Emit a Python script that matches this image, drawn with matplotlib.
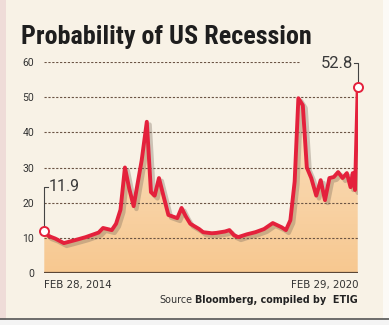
import matplotlib
matplotlib.use("Agg")
import matplotlib.pyplot as plt
import matplotlib.dates as mdates
import matplotlib.transforms as mtransforms
from matplotlib import font_manager as fm
from matplotlib.colors import LinearSegmentedColormap
import numpy as np
import pandas as pd

# ---- data ----
dates = ["2014-02-28", "2014-03-31", "2014-05-15", "2014-07-15", "2014-10-15",
         "2014-12-15", "2015-03-15", "2015-04-15", "2015-06-15", "2015-07-15",
         "2015-08-15", "2015-09-15", "2015-10-15", "2015-11-15", "2016-01-10",
         "2016-02-15", "2016-03-15", "2016-04-10", "2016-05-10", "2016-06-10",
         "2016-07-15", "2016-09-15", "2016-10-15", "2016-11-15", "2016-12-15",
         "2017-02-15", "2017-03-15", "2017-05-15", "2017-06-15", "2017-08-15",
         "2017-09-15", "2017-10-15", "2017-11-15", "2018-01-15", "2018-03-15",
         "2018-05-15", "2018-07-15", "2018-09-15", "2018-10-15", "2018-11-15",
         "2018-12-15", "2019-01-10", "2019-02-10", "2019-03-10", "2019-04-10",
         "2019-05-15", "2019-06-15", "2019-07-15", "2019-08-15", "2019-09-15",
         "2019-10-15", "2019-11-15", "2019-12-15", "2020-01-10", "2020-01-25",
         "2020-02-10", "2020-02-29"]
values = [11.9, 10.5, 9.8, 8.5, 9.5,
          10.2, 11.5, 12.8, 12.2, 14.0,
          18.0, 30.0, 24.0, 19.0, 32.0,
          43.0, 23.0, 22.0, 27.0, 22.0,
          16.5, 15.6, 18.5, 16.0, 14.0,
          12.5, 11.6, 11.3, 11.4, 11.8,
          12.2, 10.8, 10.2, 11.0, 11.6,
          12.5, 14.2, 13.0, 12.2, 15.0,
          26.0, 49.7, 47.7, 30.0, 27.0,
          22.0, 26.4, 20.7, 27.0, 27.3,
          28.7, 27.0, 28.4, 24.4, 28.4,
          23.6, 52.8]
yticks = [0, 10, 20, 30, 40, 50, 60]
title = "Probability of US Recession"
x_start_label = "FEB 28, 2014"
x_end_label = "FEB 29, 2020"
start_value_label = "11.9"
end_value_label = "52.8"

x = pd.to_datetime(dates)
xn = mdates.date2num(x)
y = np.array(values)

BG = "#f8f2e6"
RED = "#e4213c"
GRID = "#6b5444"
TXT = "#333333"

names = {f.name for f in fm.fontManager.ttflist}
COND = None
for cand in ["Liberation Sans Narrow", "DejaVu Sans Condensed", "Roboto Condensed",
             "Open Sans Condensed"]:
    if cand in names:
        COND = cand
        break
cond_faces = [f for f in fm.fontManager.ttflist
              if f.name == "DejaVu Sans" and f.stretch in ("condensed", "semi-condensed")]
if COND is None and cond_faces:
    FAM = ["DejaVu Sans"]
    STRETCH = "condensed"
elif COND is not None:
    FAM = [COND, "DejaVu Sans"]
    STRETCH = "normal"
else:
    FAM = ["Roboto", "DejaVu Sans"]
    STRETCH = "normal"
FP = dict(family=FAM, stretch=STRETCH)
FS = dict(family=["Roboto", "DejaVu Sans"])
FD = dict(family=["DejaVu Sans"])

fig = plt.figure(figsize=(3.89, 3.25), dpi=100)
fig.patch.set_facecolor(BG)

fig.patches.append(plt.Rectangle((0, 0), 6/389, 1, transform=fig.transFigure,
                                 facecolor="#efdcd8", edgecolor="none", zorder=0))
fig.patches.append(plt.Rectangle((383/389, 0), 6/389, 1, transform=fig.transFigure,
                                 facecolor="#fcfaf6", edgecolor="none", zorder=0))
fig.patches.append(plt.Rectangle((0, 0), 1, 5/325, transform=fig.transFigure,
                                 facecolor="#f4f4f4", edgecolor="none", zorder=0))
fig.add_artist(plt.Line2D([0, 1], [6/325, 6/325], transform=fig.transFigure,
                          color="#555555", lw=1.2))

ax = fig.add_axes([44/389, 1 - 273/325, (358 - 44)/389, (273 - 62)/325])
ax.set_facecolor("none")
x0, x1 = xn[0] - 2, xn[-1] + 2
ax.set_xlim(x0, x1)
ax.set_ylim(0, 60)
for s in ax.spines.values():
    s.set_visible(False)

grad = np.linspace(0, 1, 256).reshape(-1, 1)
cmap = LinearSegmentedColormap.from_list("g", ["#f7c890", "#f9d6ac", "#f8ecdb"])
im = ax.imshow(grad, aspect="auto", cmap=cmap, origin="lower",
               extent=[x0, x1, 0, 55], zorder=1)
poly = ax.fill_between(xn, 0, y, facecolor="none", edgecolor="none")
im.set_clip_path(poly.get_paths()[0], transform=ax.transData)

for t in yticks[1:]:
    xe = x1
    if t == 60:
        xe = x0 + (x1 - x0) * (300 - 44) / (358 - 44)
    ax.plot([x0, xe], [t, t], color=GRID, lw=0.8, ls=(0, (2, 1.5)), zorder=2)
ax.plot([x0, x1], [0, 0], color="#5a4636", lw=1.6, zorder=3, solid_capstyle="butt")

ax.plot(xn, y, color="#7a6a5a", lw=3.2, alpha=0.35, zorder=4,
        solid_joinstyle="round",
        transform=ax.transData + mtransforms.ScaledTranslation(
            2/72, -2/72, fig.dpi_scale_trans))
ax.plot(xn, y, color=RED, lw=2.8, zorder=5, solid_joinstyle="round")
ax.plot([xn[0], xn[-1]], [y[0], y[-1]], ls="none", marker="o", ms=6.5,
        mfc="white", mec=RED, mew=1.4, zorder=6, clip_on=False)

ax.plot([xn[0], xn[0], xn[0] + 25], [y[0], 24.5, 24.5], color="#444444", lw=0.8,
        zorder=4, clip_on=False)
ax.text(xn[0] + 30, 24.5, start_value_label, fontsize=11.5, color="#3a3a3a",
        va="center", ha="left", zorder=7, **FS)
ax.plot([xn[-1], xn[-1], xn[-1] - 25], [y[-1], 59.6, 59.6], color="#444444", lw=0.8,
        zorder=4, clip_on=False)
ax.text(xn[-1] - 30, 59.6, end_value_label, fontsize=12, color="#3a3a3a",
        va="center", ha="right", zorder=7, **FS)

ax.set_yticks(yticks)
ax.set_yticklabels([str(t) for t in yticks], fontsize=7.5, color=TXT, **FS)
ax.tick_params(axis="y", length=0, pad=7)
ax.set_xticks([])

ax.text(x0, -2.0, x_start_label, ha="left", va="top", fontsize=7.4,
        color=TXT, **FD)
ax.text(x1, -2.0, x_end_label, ha="right", va="top", fontsize=7.4,
        color=TXT, **FD)

src = fig.text(358/389, 1 - 300/325, "Bloomberg, compiled by  ETIG", ha="right",
               va="center", fontsize=6.9, weight="bold", color="#222222", **FD)
fig.canvas.draw()
bb = src.get_window_extent(renderer=fig.canvas.get_renderer())
fig.text((bb.x0 - 3) / fig.bbox.width, 1 - 300/325, "Source", ha="right", va="center",
         fontsize=6.9, color="#333333", **FD)

fig.text(21/389, 1 - 37/325, title, ha="left", va="center", fontsize=18.8,
         weight="bold", color="#1e1e1e", **FP)

fig.savefig("out.png", dpi=100, facecolor=BG)
